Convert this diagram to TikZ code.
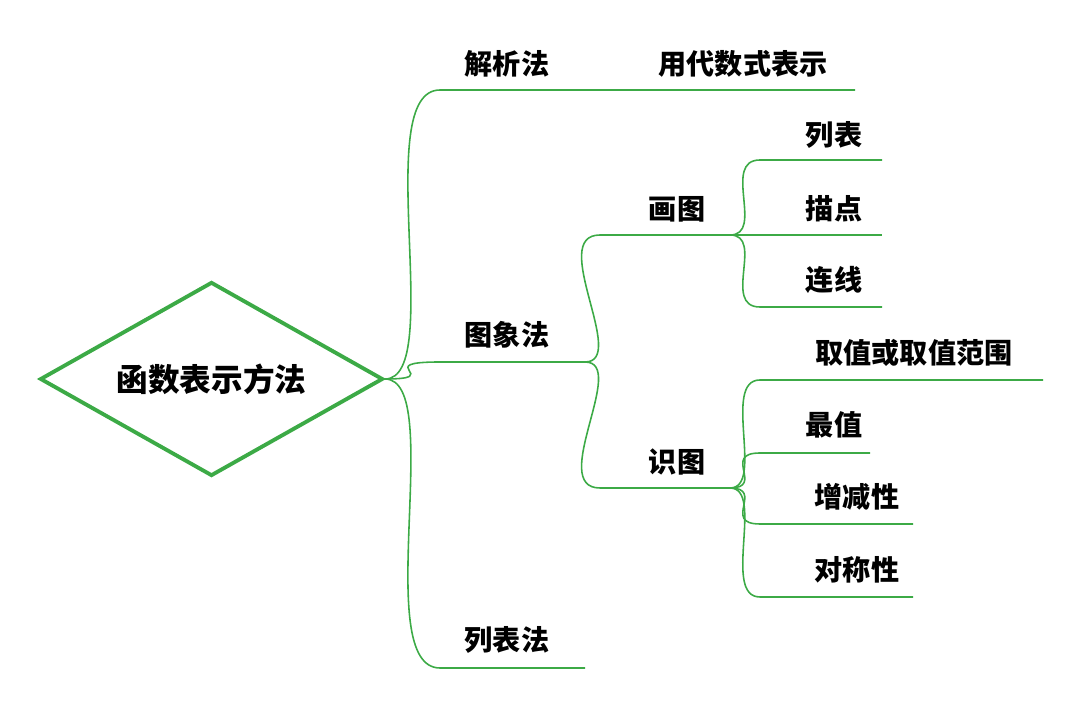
\documentclass[tikz,border=0pt]{standalone}
\usepackage{fontspec}
\newfontfamily\cjk{Noto Sans CJK SC}
\usetikzlibrary{shapes.geometric}
\definecolor{mapgreen}{RGB}{60,170,70}
\begin{document}
\begin{tikzpicture}[x=0.02cm,y=-0.02cm,
  label node/.style={font=\cjk\bfseries\fontsize{16}{18}\selectfont},
  branch/.style={mapgreen,line width=0.9pt},
  root node/.style={diamond,draw=mapgreen,line width=2.2pt,minimum width=6.86cm,minimum height=3.88cm,inner sep=0pt,aspect=1.77,font=\cjk\bfseries\fontsize{18}{21}\selectfont}]
  \useasboundingbox (0,0) rectangle (1080,705);
  \node[root node] at (211.5,379) (root) {函数表示方法};
  % first level
  \node[label node] at (507,64) (jx) {解析法};
  \node[label node] at (743,64) (dai) {用代数式表示};
  \node[label node] at (507,335) (tx) {图象法};
  \node[label node] at (507,640) (lb) {列表法};
  \coordinate (jxa) at (440,90); \coordinate (jxb) at (855,90);
  \coordinate (txa) at (440,362); \coordinate (txb) at (585,362);
  \coordinate (lba) at (440,668); \coordinate (lbb) at (585,668);
  % second level
  \node[label node] at (677,209) (hua) {画图};
  \node[label node] at (677,462) (shi) {识图};
  \coordinate (huaa) at (600,235); \coordinate (huab) at (730,235);
  \coordinate (shia) at (600,488); \coordinate (shib) at (730,488);
  % third level
  \node[label node] at (834,135) (lie) {列表};
  \node[label node] at (834,209) (miao) {描点};
  \node[label node] at (834,280) (lian) {连线};
  \node[label node] at (914,353) (qz) {取值或取值范围};
  \node[label node] at (834,425) (zui) {最值};
  \node[label node] at (857,497) (zj) {增减性};
  \node[label node] at (857,570) (dc) {对称性};
  \coordinate (liea) at (760,160); \coordinate (lieb) at (882,160);
  \coordinate (miaoa) at (760,235); \coordinate (miaob) at (882,235);
  \coordinate (liana) at (760,307); \coordinate (lianb) at (882,307);
  \coordinate (qza) at (760,380); \coordinate (qzb) at (1043,380);
  \coordinate (zuia) at (760,453); \coordinate (zuib) at (870,453);
  \coordinate (zja) at (760,524); \coordinate (zjb) at (913,524);
  \coordinate (dca) at (760,597); \coordinate (dcb) at (913,597);

  \foreach \s/\t in {root.east/jx,root.east/tx,root.east/lb}
    \draw[branch] (\s) .. controls ([xshift=35]\s) and ([xshift=-40]\t a) .. (\t a) -- (\t b);
  \foreach \s/\t in {txb/hua,txb/shi}
    \draw[branch] (\s) .. controls ([xshift=25]\s) and ([xshift=-30]\t a) .. (\t a) -- (\t b);
  \foreach \s/\t in {huab/lie,huab/miao,huab/lian,shib/qz,shib/zui,shib/zj,shib/dc}
    \draw[branch] (\s) .. controls ([xshift=20]\s) and ([xshift=-22]\t a) .. (\t a) -- (\t b);
\end{tikzpicture}
\end{document}
